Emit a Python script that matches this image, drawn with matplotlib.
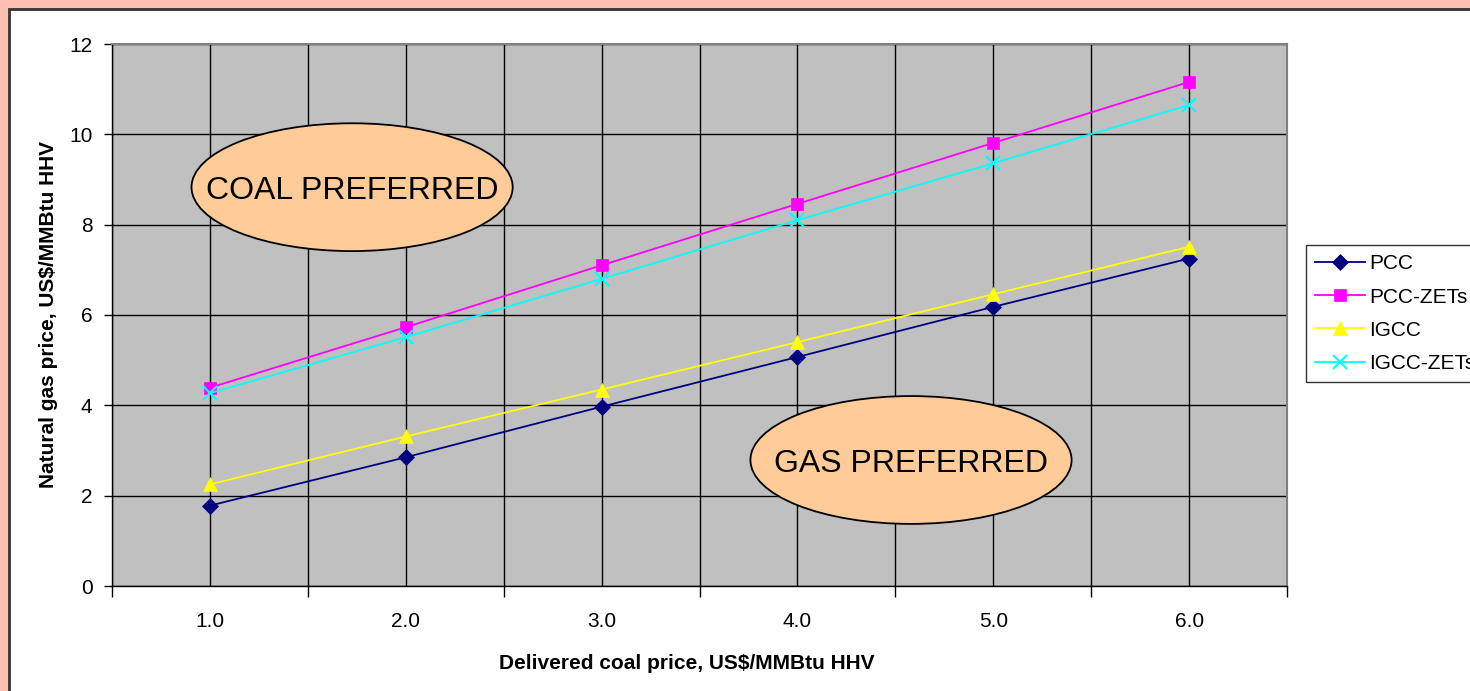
import numpy as np
import matplotlib
matplotlib.use("Agg")
import matplotlib.pyplot as plt
from matplotlib.patches import Ellipse, Rectangle
from matplotlib.ticker import FixedLocator

plt.rcParams["font.family"] = ["Liberation Sans", "DejaVu Sans"]

# Data
coal_price = ["1.0", "2.0", "3.0", "4.0", "5.0", "6.0"]
pcc = [1.78, 2.85, 3.97, 5.07, 6.18, 7.25]
pcc_zets = [4.39, 5.73, 7.10, 8.46, 9.81, 11.16]
igcc = [2.25, 3.31, 4.35, 5.40, 6.46, 7.51]
igcc_zets = [4.27, 5.51, 6.80, 8.10, 9.36, 10.65]

series = [
    ("PCC", pcc, "#000080", "D", 8),
    ("PCC-ZETs", pcc_zets, "#FF00FF", "s", 8),
    ("IGCC", igcc, "#FFFF00", "^", 10),
    ("IGCC-ZETs", igcc_zets, "#00FFFF", "x", 10),
]

fig = plt.figure(figsize=(14.7, 6.91), dpi=100)
fig.patch.set_facecolor("#FFC0B2")

# white chart area with dark frame
fig.patches.append(Rectangle((9 / 1470, -0.05), 1.1, (691 - 9) / 691 + 0.05,
                             transform=fig.transFigure, facecolor="white",
                             edgecolor="#333333", linewidth=2, zorder=-10))

ax = fig.add_axes([112 / 1470, (691 - 586) / 691, (1287 - 112) / 1470, (586 - 44) / 691])
ax.set_facecolor("#C0C0C0")

x = np.arange(len(coal_price))
for name, vals, color, marker, ms in series:
    ax.plot(x, vals, color=color, marker=marker, markersize=ms, linewidth=1.3,
            markeredgewidth=1.5 if marker == "x" else 0.5, label=name, zorder=3)

ax.set_xlim(-0.5, len(coal_price) - 0.5)
ax.set_ylim(0, 12)
ax.set_yticks(np.arange(0, 13, 2))
ax.set_xticks(x)
ax.set_xticklabels(coal_price)
ax.xaxis.set_minor_locator(FixedLocator(np.arange(-0.5, len(coal_price), 1.0)))

ax.grid(True, which="major", color="black", linewidth=1)
ax.grid(True, which="minor", axis="x", color="black", linewidth=1)
ax.set_axisbelow(True)

ax.tick_params(axis="x", which="major", length=0, pad=19, labelsize=15)
ax.tick_params(axis="x", which="minor", length=8, width=1, direction="out")
ax.tick_params(axis="y", length=6, width=1, direction="out", labelsize=15, pad=8)

for side in ["top", "right"]:
    ax.spines[side].set_color("#808080")
    ax.spines[side].set_linewidth(1.5)
for side in ["left", "bottom"]:
    ax.spines[side].set_color("black")
    ax.spines[side].set_linewidth(1)

ax.set_xlabel("Delivered coal price, US$/MMBtu HHV", fontsize=15, fontweight="bold", labelpad=14)
ax.xaxis.set_label_coords(0.489, -0.125)
ax.set_ylabel("Natural gas price, US$/MMBtu HHV", fontsize=15, fontweight="bold", labelpad=8)

# region labels
for cx, cy, label in [(0.726, 8.83, "COAL PREFERRED"), (3.58, 2.79, "GAS PREFERRED")]:
    ax.add_patch(Ellipse((cx, cy), 1.64, 2.83, facecolor="#FFCC99",
                         edgecolor="black", linewidth=1.3, zorder=4))
    ax.text(cx, cy - 0.08, label, ha="center", va="center", fontsize=23, zorder=5)

leg = fig.legend(loc="upper left", bbox_to_anchor=(1306 / 1470, (691 - 245) / 691),
                 fontsize=15, frameon=True, fancybox=False, edgecolor="black",
                 handlelength=2.4, labelspacing=0.68, borderpad=0.45, handletextpad=0.2,
                 borderaxespad=0)
leg.get_frame().set_linewidth(1)

fig.savefig("out.png", dpi=100, facecolor=fig.get_facecolor())
